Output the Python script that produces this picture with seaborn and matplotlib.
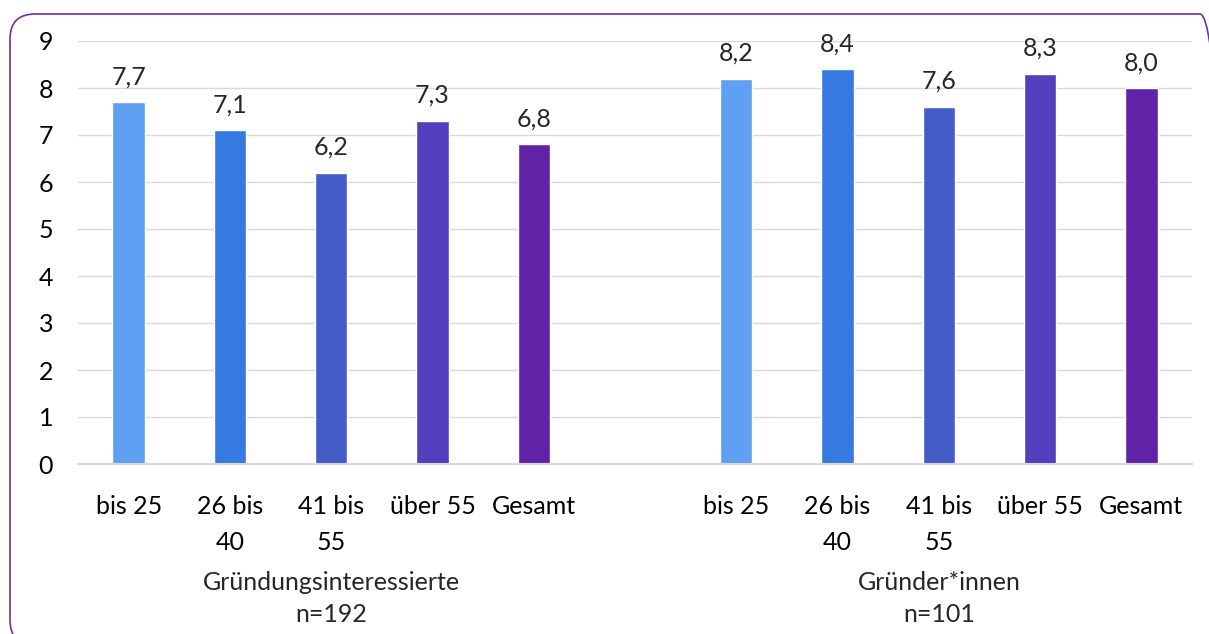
import pandas as pd
import matplotlib.pyplot as plt
import seaborn as sns
from matplotlib.patches import FancyBboxPatch

# Data
age_groups = ['bis 25', '26 bis\n40', '41 bis\n55', 'über 55', 'Gesamt']
interested_vals = [7.7, 7.1, 6.2, 7.3, 6.8]
founders_vals = [8.2, 8.4, 7.6, 8.3, 8.0]
group_names = ['Gründungsinteressierte\nn=192', 'Gründer*innen\nn=101']
bar_colors = ['#5FA0F2', '#367AE0', '#435CC8', '#523FBE', '#6222A8']

# build one long table with an empty slot between the two groups
slots, labels, values, hues = [], [], [], []
for i, (lab, v) in enumerate(zip(age_groups, interested_vals)):
    slots.append(f'a{i}'); labels.append(lab); values.append(v); hues.append(lab)
slots.append('gap'); labels.append(''); values.append(float('nan')); hues.append(age_groups[0])
for i, (lab, v) in enumerate(zip(age_groups, founders_vals)):
    slots.append(f'b{i}'); labels.append(lab); values.append(v); hues.append(lab)
df = pd.DataFrame({'slot': slots, 'label': labels, 'value': values, 'age': hues})

sns.set_style("white")
plt.rcParams['font.family'] = ['Lato', 'DejaVu Sans']
fs = 18

fig = plt.figure(figsize=(12.09, 6.34), dpi=100)
ax = fig.add_axes([78 / 1209, 1 - 464 / 634, 1114 / 1209, 423 / 634])

sns.barplot(data=df, x='slot', y='value', hue='age', hue_order=age_groups,
            palette=bar_colors, width=0.32, dodge=False, legend=False,
            saturation=1, ax=ax)

ax.set_ylim(0, 9)
ax.set_yticks(range(0, 10))
ax.yaxis.grid(True, color='#D9D9D9', linewidth=1.0)
ax.set_axisbelow(True)
for s in ['left', 'right', 'top']:
    ax.spines[s].set_visible(False)
ax.spines['bottom'].set_color('#D9D9D9')
ax.spines['bottom'].set_linewidth(1.5)
ax.tick_params(axis='both', length=0, labelsize=fs, colors='black')
ax.tick_params(axis='y', pad=18)
ax.set_xticks(range(len(labels)))
ax.set_xticklabels(labels, linespacing=1.7, va='top')
ax.tick_params(axis='x', pad=22)
ax.set_xlabel('')
ax.set_ylabel('')

# value labels above bars
for cont in ax.containers:
    ax.bar_label(cont, labels=[f'{h:.1f}'.replace('.', ',') if h == h and h > 0 else ''
                               for h in cont.datavalues],
                 padding=10, fontsize=fs)

# group captions
for center, name in zip([2, 8], group_names):
    ax.annotate(name, xy=(center, 0), xycoords='data', xytext=(0, -77),
                textcoords='offset points', ha='center', va='top',
                fontsize=fs, linespacing=1.5)

# rounded purple frame
frame = FancyBboxPatch((0.10, -0.11), 12.15, 6.31, boxstyle='round,pad=0,rounding_size=0.25',
                       transform=fig.dpi_scale_trans, facecolor='none',
                       edgecolor='#7030A0', linewidth=1.2, clip_on=False)
fig.patches.append(frame)

fig.savefig('out.png', dpi=100)
